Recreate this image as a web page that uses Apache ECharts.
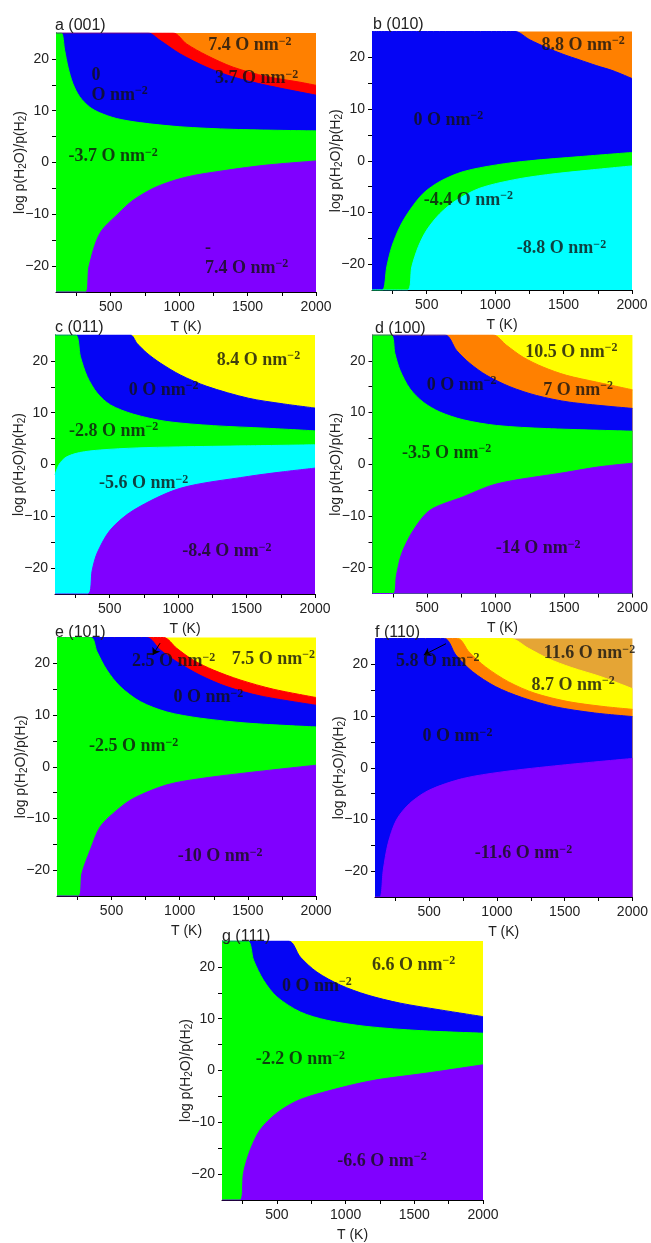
<!DOCTYPE html>
<html>
<head>
<meta charset="utf-8">
<title>Surface phase diagrams</title>
<script src="https://cdn.jsdelivr.net/npm/echarts@6/dist/echarts.min.js"></script>
<style>
  html, body { margin: 0; padding: 0; background: #fff; }
  #chart { width: 651px; height: 1243px; }
</style>
</head>
<body>
<div id="chart"></div>
<script>
// phase boundaries, [T (K), log p(H2O)/p(H2)]
// each one separates the region above it from the region below it

// a (001)
const a_b1 = [[100, 25], [956, 25], [1054, 22.9], [1200, 20.7], [1395, 18.4], [1639, 16.6], [1883, 15.5], [2000, 14.9]]
const a_b2 = [[100, 25], [773, 25], [859, 23.6], [1005, 21.0], [1200, 18.4], [1395, 16.5], [1639, 14.9], [2000, 13.0]]
const a_b3 = [[100, 25], [139, 25], [163, 21.7], [188, 18.4], [224, 15.2], [273, 12.7], [346, 10.7], [420, 9.6], [541, 8.5], [712, 7.7], [1005, 6.9], [1395, 6.4], [2000, 6.1]]
const a_b4 = [[100, -25], [317, -25], [341, -20.1], [420, -13.7], [554, -9.9], [663, -7.3], [834, -4.7], [1054, -2.8], [1346, -1.5], [1639, -0.5], [2000, 0.3]]

// b (010)
const b_b1 = [[100, 25], [1145, 25], [1253, 23.4], [1375, 21.9], [1496, 20.6], [1618, 19.5], [1740, 18.4], [1862, 17.4], [2000, 15.9]]
const b_b2 = [[100, -25], [176, -25], [208, -20.5], [245, -16.6], [305, -12.7], [378, -9.5], [475, -6.3], [597, -4.0], [767, -2.1], [1010, -0.8], [1253, 0.0], [1618, 0.8], [2000, 1.6]]
const b_b3 = [[100, -25], [359, -25], [391, -20.5], [439, -16.6], [500, -13.4], [597, -10.2], [719, -7.6], [889, -5.3], [1132, -3.7], [1375, -2.7], [1691, -1.8], [2000, -1.0]]

// c (011)
const c_b1 = [[100, 25], [651, 25], [699, 23.4], [772, 21.5], [869, 19.6], [1015, 17.3], [1209, 15.1], [1513, 12.8], [1769, 11.7], [2000, 10.9]]
const c_b2 = [[100, 25], [249, 25], [286, 20.8], [335, 17.0], [408, 13.8], [505, 11.5], [675, 9.7], [918, 8.3], [1258, 7.5], [1647, 7.0], [2000, 6.5]]
const c_b3 = [[100, -2], [130, 0.0], [180, 1.4], [280, 2.3], [430, 2.8], [700, 3.2], [1000, 3.4], [1500, 3.6], [2000, 3.8]]
const c_b4 = [[100, -25], [340, -25], [372, -20.4], [408, -17.1], [505, -12.6], [675, -8.8], [1015, -4.6], [1513, -2.3], [1769, -1.4], [2000, -0.7]]

// d (100)
const d_b1 = [[100, 25], [982, 25], [1080, 23.0], [1201, 20.7], [1347, 18.8], [1518, 17.2], [1737, 15.9], [2000, 14.4]]
const d_b2 = [[100, 25], [630, 25], [715, 22.0], [812, 19.5], [934, 17.2], [1104, 15.0], [1299, 13.3], [1542, 12.0], [2000, 10.8]]
const d_b3 = [[100, 25], [235, 25], [264, 21.4], [301, 18.2], [374, 14.6], [471, 12.0], [593, 10.1], [763, 8.6], [1007, 7.5], [1372, 6.9], [2000, 6.4]]
const d_b4 = [[100, -25], [252, -25], [275, -21.5], [313, -17.3], [398, -12.8], [520, -8.9], [763, -6.3], [1007, -3.8], [1506, -1.6], [1757, -0.5], [2000, 0.2]]

// e (101)
const e_b1 = [[100, 25], [881, 25], [979, 22.9], [1101, 20.6], [1248, 18.7], [1443, 16.8], [1687, 15.0], [2000, 13.4]]
const e_b2 = [[100, 25], [759, 25], [857, 22.6], [979, 20.3], [1150, 17.7], [1345, 15.5], [1590, 13.7], [2000, 11.9]]
const e_b3 = [[100, 25], [349, 25], [393, 22.3], [466, 18.7], [564, 15.5], [711, 12.6], [906, 10.6], [1150, 9.4], [1516, 8.4], [2000, 7.7]]
const e_b4 = [[100, -25], [259, -25], [283, -20.6], [344, -16.1], [417, -11.6], [540, -8.4], [662, -6.1], [906, -3.5], [1150, -2.3], [1516, -1.1], [2000, 0.3]]

// f (110)
const f_b1 = [[100, 25], [1099, 25], [1233, 23.1], [1379, 21.1], [1549, 19.4], [1769, 17.6], [2000, 15.3]]
const f_b2 = [[100, 25], [709, 25], [794, 22.4], [916, 19.5], [1087, 16.6], [1281, 14.4], [1525, 12.8], [1769, 11.9], [2000, 11.3]]
const f_b3 = [[100, 25], [612, 25], [697, 21.8], [819, 18.6], [989, 15.7], [1184, 13.6], [1428, 11.8], [1720, 10.6], [2000, 9.9]]
const f_b4 = [[100, -25], [137, -25], [161, -19.8], [197, -14.6], [258, -10.1], [356, -6.9], [502, -4.3], [746, -2.1], [1038, -0.8], [1476, 0.5], [2000, 1.8]]

// g (111)
const g_b1 = [[100, 25], [585, 25], [670, 21.9], [791, 19.0], [961, 16.5], [1155, 14.6], [1398, 13.0], [1689, 11.7], [2000, 10.4]]
const g_b2 = [[100, 25], [286, 25], [330, 21.3], [403, 17.4], [500, 14.2], [670, 11.3], [864, 9.7], [1155, 8.5], [1544, 7.7], [2000, 7.2]]
const g_b3 = [[100, -25], [233, -25], [257, -19.7], [306, -15.3], [379, -11.4], [500, -8.2], [670, -5.6], [998, -3.1], [1228, -1.8], [1592, -0.5], [2000, 1.1]]

// region labels: [text, T, log p]
const a_notes = [['7.4 O nm', 1517, 22.6], ['3.7 O nm', 1566, 16.2], ['0\nO nm', 359, 14.9, 'left'], ['-3.7 O nm', 517, 1.1], ['-\n7.4 O nm', 1188, -18.5, 'left']]
const b_notes = [['8.8 O nm', 1643, 22.4], ['0 O nm', 658, 7.9], ['-4.4 O nm', 804, -7.6], ['-8.8 O nm', 1485, -17.0]]
const c_notes = [['8.4 O nm', 1587, 20.2], ['0 O nm', 894, 14.4], ['-2.8 O nm', 529, 6.4], ['-5.6 O nm', 748, -3.7], ['-8.4 O nm', 1356, -16.8]]
const d_notes = [['10.5 O nm', 1554, 21.7], ['0 O nm', 751, 15.3], ['7 O nm', 1603, 14.3], ['-3.5 O nm', 642, 2.1], ['-14 O nm', 1311, -16.3]]
const e_notes = [['2.5 O nm', 955, 20.3], ['7.5 O nm', 1687, 20.8], ['0 O nm', 1211, 13.4], ['-2.5 O nm', 662, 3.9], ['-10 O nm', 1297, -17.4]]
const f_notes = [['11.6 O nm', 1683, 22.1], ['8.7 O nm', 1562, 16.0], ['5.8 O nm', 563, 20.5], ['0 O nm', 709, 6.0], ['-11.6 O nm', 1196, -16.6]]
const g_notes = [['6.6 O nm', 1495, 20.3], ['0 O nm', 791, 16.3], ['-2.2 O nm', 670, 2.1], ['-6.6 O nm', 1265, -17.5]]

// arrows [from, to]
const e_arrow = [[856, 23.9], [802, 21.6]]
const f_arrow = [[624, 24.0], [460, 21.8]]

const T_LABELS = [500, 1000, 1500, 2000]
const T_TICKS = [250, 500, 750, 1000, 1250, 1500, 1750, 2000]
const P_LABELS = [-20, -10, 0, 10, 20]
const P_TICKS = [-20, -15, -10, -5, 0, 5, 10, 15, 20]

const GREEN = '#00ff00'
const BLUE = '#0505f5'
const PURPLE = '#8000ff'
const ORANGE = '#ff8000'
const RED = '#ff0000'
const YELLOW = '#ffff00'
const CYAN = '#00ffff'
const GOLD = '#e5a535'

const SANS = 'Liberation Sans, Arial, sans-serif'
const SERIF = 'Liberation Serif, Times New Roman, serif'

// top colour, then each boundary with the colour of the region below it
const panels = [
  { title: 'a (001)', rect: [56, 33, 260, 259], titlePos: [55, 18], top: ORANGE,
    bands: [[a_b1, RED], [a_b2, BLUE], [a_b3, GREEN], [a_b4, PURPLE]], notes: a_notes },
  { title: 'b (010)', rect: [372, 31.5, 260, 258.5], titlePos: [373, 17], top: ORANGE,
    bands: [[b_b1, BLUE], [b_b2, GREEN], [b_b3, CYAN]], notes: b_notes },
  { title: 'c (011)', rect: [55, 335, 260, 259], titlePos: [55, 320], top: YELLOW,
    bands: [[c_b1, BLUE], [c_b2, GREEN], [c_b3, CYAN], [c_b4, PURPLE]], notes: c_notes },
  { title: 'd (100)', rect: [372.5, 335, 260, 258.5], titlePos: [375, 321], top: YELLOW,
    bands: [[d_b1, ORANGE], [d_b2, BLUE], [d_b3, GREEN], [d_b4, PURPLE]], notes: d_notes },
  { title: 'e (101)', rect: [57, 637.5, 259, 258.5], titlePos: [55, 625], top: YELLOW,
    bands: [[e_b1, RED], [e_b2, BLUE], [e_b3, GREEN], [e_b4, PURPLE]], notes: e_notes, arrow: e_arrow },
  { title: 'f (110)', rect: [375, 638.5, 260, 258.5], titlePos: [375, 625], top: GOLD,
    bands: [[f_b1, YELLOW], [f_b2, ORANGE], [f_b3, BLUE], [f_b4, PURPLE]], notes: f_notes, arrow: f_arrow },
  { title: 'g (111)', rect: [222, 941, 261, 260], titlePos: [222, 929], top: YELLOW,
    bands: [[g_b1, BLUE], [g_b2, GREEN], [g_b3, PURPLE]], notes: g_notes }
]

const noteRich = {
  n: { fontFamily: SERIF, fontWeight: 'bold', fontSize: 18, lineHeight: 20, color: '#111' },
  s: { fontFamily: SERIF, fontWeight: 'bold', fontSize: 12, lineHeight: 12, verticalAlign: 'top', color: '#111' }
}

function noteText(name) {
  const lines = name.split('\n')
  return lines.map((l, i) => i === lines.length - 1 ? `{n|${l}}{s|−2}` : `{n|${l}}`).join('\n')
}

const grid = [], xAxis = [], yAxis = [], title = [], series = []

panels.forEach((p, i) => {
  grid.push({
    left: p.rect[0], top: p.rect[1], width: p.rect[2], height: p.rect[3],
    show: true, backgroundColor: p.top, borderWidth: 0
  })
  title.push({
    text: p.title, left: p.titlePos[0], top: p.titlePos[1], padding: 0,
    textStyle: { fontFamily: SANS, fontSize: 16, fontWeight: 'normal', color: '#222' }
  })
  xAxis.push({
    gridIndex: i, type: 'value', min: 100, max: 2000,
    name: 'T (K)', nameLocation: 'middle', nameGap: 28, nameMoveOverlap: false,
    nameTextStyle: { fontFamily: SANS, fontSize: 14, color: '#222' },
    axisLine: { show: true, onZero: false, lineStyle: { color: '#000', width: 1 } },
    axisTick: { show: true, length: 4, customValues: T_TICKS, lineStyle: { color: '#000' } },
    axisLabel: { customValues: T_LABELS, fontFamily: SANS, fontSize: 14, color: '#222', margin: 8, formatter: v => String(v) },
    splitLine: { show: false }
  })
  yAxis.push({
    gridIndex: i, type: 'value', min: -25, max: 25,
    name: 'log p(H{sub|2}O)/p(H{sub|2})', nameLocation: 'middle', nameGap: 28, nameRotate: 90,
    nameMoveOverlap: false,
    nameTextStyle: {
      fontFamily: SANS, fontSize: 14, color: '#222', lineHeight: 16,
      rich: { sub: { fontFamily: SANS, fontSize: 10, color: '#222', lineHeight: 10, verticalAlign: 'bottom', padding: [5, 0, 0, 0] } }
    },
    axisLine: { show: true, onZero: false, lineStyle: { color: '#000', width: 1 } },
    axisTick: { show: true, length: 4, customValues: P_TICKS, lineStyle: { color: '#000' } },
    axisLabel: {
      customValues: P_LABELS, fontFamily: SANS, fontSize: 14, color: '#222', margin: 7,
      formatter: v => String(v).replace('-', '−')
    },
    splitLine: { show: false }
  })

  // fill each boundary down to the bottom of the axis
  p.bands.forEach(([line, color]) => {
    series.push({
      type: 'line', xAxisIndex: i, yAxisIndex: i, data: line,
      symbol: 'none', smooth: 0.3, silent: true,
      lineStyle: { color, width: 1 },
      areaStyle: { color, opacity: 1, origin: 'start' }
    })
  })

  const labels = {
    type: 'scatter', xAxisIndex: i, yAxisIndex: i, symbolSize: 1, silent: true, z: 5,
    itemStyle: { color: 'transparent' },
    data: p.notes.map(n => ({ name: n[0], value: [n[1], n[2]], label: { align: n[3] || 'center' } })),
    label: { show: true, position: 'inside', formatter: q => noteText(q.name), rich: noteRich }
  }
  if (p.arrow) {
    labels.markLine = {
      silent: true, symbol: ['none', 'arrow'], symbolSize: 7,
      lineStyle: { color: '#000', width: 1, type: 'solid' },
      label: { show: false },
      data: [[{ coord: p.arrow[0] }, { coord: p.arrow[1] }]]
    }
  }
  series.push(labels)
})

const chart = echarts.init(document.getElementById('chart'))
chart.setOption({ animation: false, backgroundColor: '#fff', title, grid, xAxis, yAxis, series })
window.addEventListener('resize', () => chart.resize())
</script>
</body>
</html>
